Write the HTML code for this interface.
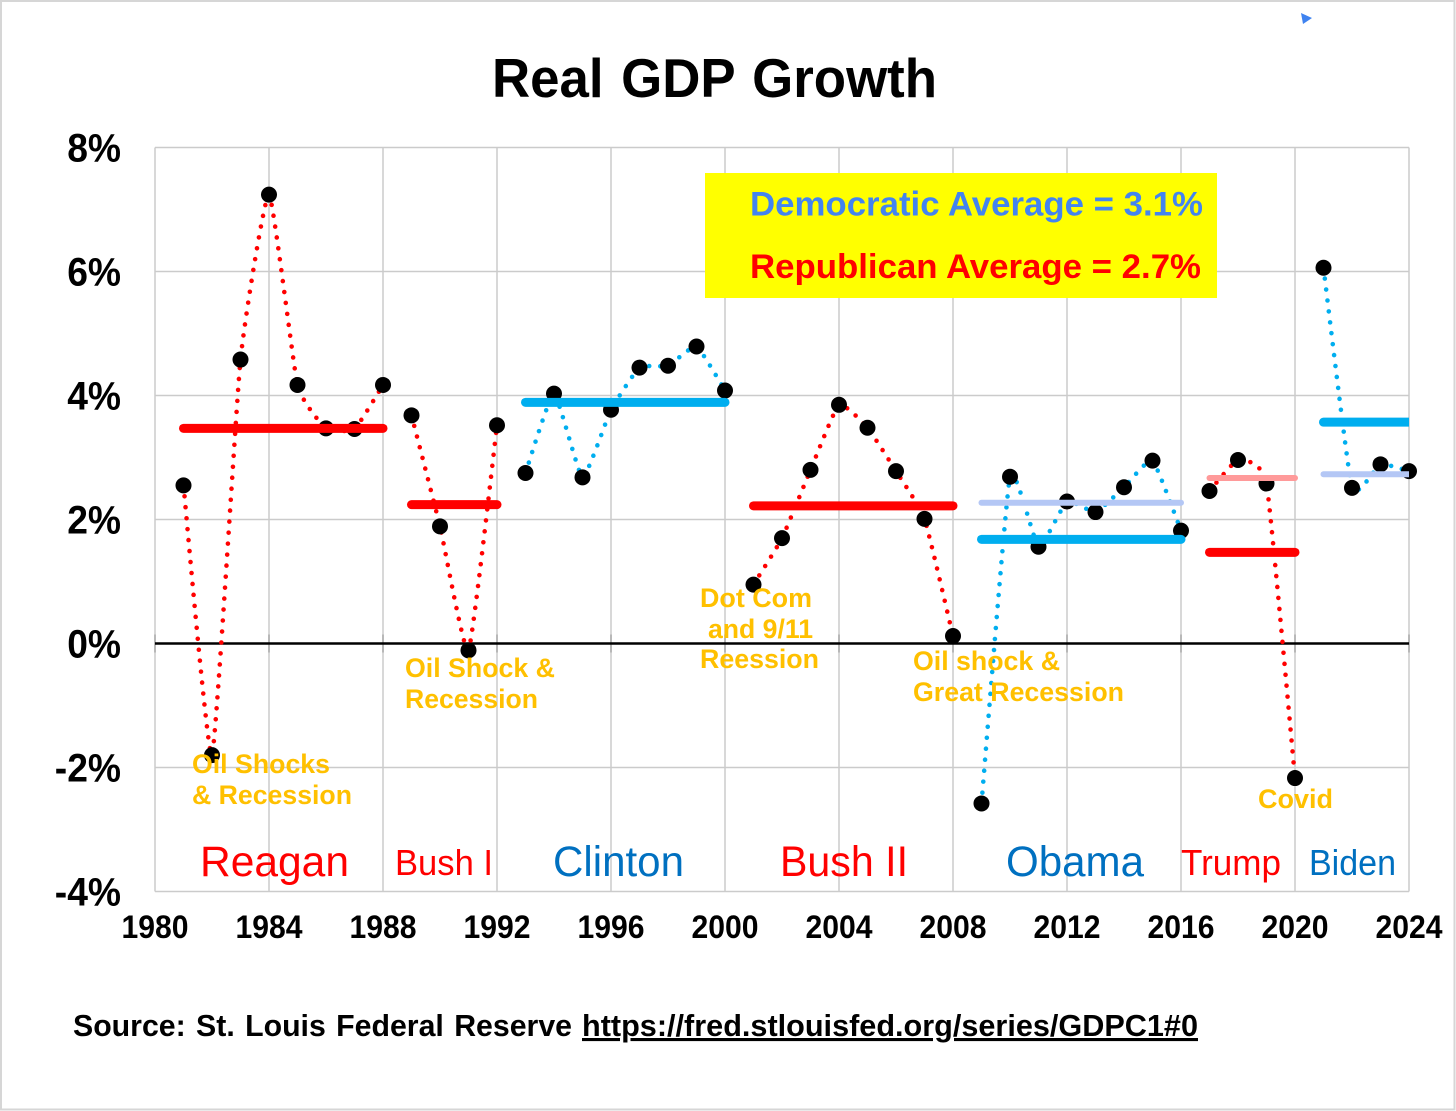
<!DOCTYPE html>
<html lang="en">
<head>
<meta charset="utf-8">
<title>Real GDP Growth</title>
<style>
html,body{margin:0;padding:0;background:#fff;}
svg{display:block;font-family:"Liberation Sans",Arial,sans-serif;}
</style>
</head>
<body>
<svg id="chart" xmlns="http://www.w3.org/2000/svg" width="1456" height="1111" viewBox="0 0 1456 1111">
  <rect x="1" y="1" width="1453.5" height="1108.5" fill="#fff" stroke="#d6d6d6" stroke-width="2"/>
  <polygon points="1301,13 1312,18 1303,24" fill="#3f83f0"/>
  <text x="492" y="97" font-size="55" font-weight="700" fill="#000" word-spacing="3" textLength="445" lengthAdjust="spacingAndGlyphs">Real GDP Growth</text>
  <g id="grid"></g>
  <rect x="705" y="173" width="512" height="125" fill="#ffff00"/>
  <g id="lines"></g>
  <g id="points"></g>
  <g id="bars"></g>
  <g id="labels"></g>
  <text x="750" y="215.5" font-size="34" font-weight="700" fill="#4384f0" textLength="453" lengthAdjust="spacingAndGlyphs">Democratic Average = 3.1%</text>
  <text x="750" y="278" font-size="34" font-weight="700" fill="#ff0000" textLength="451" lengthAdjust="spacingAndGlyphs">Republican Average = 2.7%</text>

  <g font-size="27" font-weight="700" fill="#ffc000">
    <text x="192" y="773" textLength="138" lengthAdjust="spacingAndGlyphs">Oil Shocks</text>
    <text x="192" y="804" textLength="160" lengthAdjust="spacingAndGlyphs">&amp; Recession</text>
    <text x="405" y="677" textLength="150" lengthAdjust="spacingAndGlyphs">Oil Shock &amp;</text>
    <text x="405" y="708" textLength="133" lengthAdjust="spacingAndGlyphs">Recession</text>
    <text x="700" y="607" textLength="112" lengthAdjust="spacingAndGlyphs">Dot Com</text>
    <text x="708" y="638" textLength="105" lengthAdjust="spacingAndGlyphs">and 9/11</text>
    <text x="700" y="668" textLength="119" lengthAdjust="spacingAndGlyphs">Reession</text>
    <text x="913" y="670" textLength="147" lengthAdjust="spacingAndGlyphs">Oil shock &amp;</text>
    <text x="913" y="701" textLength="211" lengthAdjust="spacingAndGlyphs">Great Recession</text>
    <text x="1258" y="808" textLength="75" lengthAdjust="spacingAndGlyphs">Covid</text>
  </g>

  <text x="200" y="876" font-size="43" fill="#ff0000" textLength="149" lengthAdjust="spacingAndGlyphs">Reagan</text>
  <text x="395" y="875" font-size="36" fill="#ff0000" textLength="98" lengthAdjust="spacingAndGlyphs">Bush I</text>
  <text x="553" y="876" font-size="43" fill="#0070c0" textLength="131" lengthAdjust="spacingAndGlyphs">Clinton</text>
  <text x="780" y="876" font-size="43" fill="#ff0000" textLength="128" lengthAdjust="spacingAndGlyphs">Bush II</text>
  <text x="1006" y="876" font-size="43" fill="#0070c0" textLength="138" lengthAdjust="spacingAndGlyphs">Obama</text>
  <text x="1181" y="875" font-size="36" fill="#ff0000" textLength="100" lengthAdjust="spacingAndGlyphs">Trump</text>
  <text x="1309" y="875" font-size="36" fill="#0070c0" textLength="87" lengthAdjust="spacingAndGlyphs">Biden</text>

  <text x="73" y="1036" font-size="31" font-weight="700" fill="#000" word-spacing="2" textLength="499" lengthAdjust="spacingAndGlyphs">Source: St. Louis Federal Reserve</text>
  <text x="582" y="1036" font-size="31" font-weight="700" fill="#000" text-decoration="underline" textLength="616" lengthAdjust="spacingAndGlyphs">https://fred.stlouisfed.org/series/GDPC1#0</text>
</svg>
<script>
const years = [1981,1982,1983,1984,1985,1986,1987,1988,1989,1990,1991,1992,1993,1994,1995,1996,1997,1998,1999,2000,2001,2002,2003,2004,2005,2006,2007,2008,2009,2010,2011,2012,2013,2014,2015,2016,2017,2018,2019,2020,2021,2022,2023,2024];
const growth = [2.55,-1.80,4.58,7.24,4.17,3.47,3.46,4.17,3.68,1.89,-0.11,3.52,2.75,4.03,2.68,3.77,4.45,4.48,4.79,4.08,0.95,1.70,2.80,3.85,3.48,2.78,2.01,0.12,-2.58,2.69,1.56,2.29,2.12,2.52,2.95,1.82,2.46,2.96,2.58,-2.17,6.06,2.51,2.89,2.78];
const termFirstYears = [1981,1989,1993,2001,2009,2017,2021];
const termLastYears = [1988,1992,2000,2008,2016,2020,2024];
const termParties = ["R","R","D","R","D","R","D"];
const termAverages = [3.47,2.24,3.89,2.22,1.68,1.47,3.57];
const comparisonTermIndexes = [4,5,6];
const comparisonAverages = [2.27,2.67,2.73];
const yTickValues = [8,6,4,2,0,-2,-4];
const yTickLabels = ["8%","6%","4%","2%","0%","-2%","-4%"];
const xTickValues = [1980,1984,1988,1992,1996,2000,2004,2008,2012,2016,2020,2024];

const NS = "http://www.w3.org/2000/svg";
const xScale = function (year) { return 155 + (year - 1980) * (1254 / 44); };
const yScale = function (value) { return 643.5 - value * 62; };
const lineColor = function (party) { return party === "D" ? "#00aeef" : "#ff0000"; };
const lightColor = function (party) { return party === "D" ? "#b4c7f5" : "#ff9a9a"; };
function make(tag, parent, attrs) {
  const el = document.createElementNS(NS, tag);
  for (const key in attrs) { el.setAttribute(key, attrs[key]); }
  parent.appendChild(el);
  return el;
}

const grid = document.getElementById("grid");
yTickValues.forEach(function (value) {
  if (value === 0) { return; }
  const line = make("line", grid, { x1: 155, x2: 1409, y1: yScale(value), y2: yScale(value), stroke: "#cbcbcb", "stroke-width": 1.5 });
  
  
});
xTickValues.forEach(function (year) {
  const line = make("line", grid, { x1: xScale(year), x2: xScale(year), y1: yScale(8), y2: yScale(-4), stroke: "#cbcbcb", "stroke-width": 1.5 });
  
  
  const tick = make("line", grid, { x1: xScale(year), x2: xScale(year), y1: yScale(0) - 9, y2: yScale(0) + 9, stroke: "#a8a8a8", "stroke-width": 1.5 });
  
  
});
const zeroLine = make("line", grid, { x1: 155, x2: 1409, y1: yScale(0), y2: yScale(0), stroke: "#000", "stroke-width": 2.4 });



function smoothPath(points) {
  const k = 1 / 14;
  let d = "M" + points[0][0] + " " + points[0][1];
  for (let i = 0; i < points.length - 1; i++) {
    const p0 = points[Math.max(i - 1, 0)];
    const p1 = points[i];
    const p2 = points[i + 1];
    const p3 = points[Math.min(i + 2, points.length - 1)];
    d += " C" + (p1[0] + (p2[0] - p0[0]) * k) + " " + (p1[1] + (p2[1] - p0[1]) * k) +
         " " + (p2[0] - (p3[0] - p1[0]) * k) + " " + (p2[1] - (p3[1] - p1[1]) * k) +
         " " + p2[0] + " " + p2[1];
  }
  return d;
}

const lines = document.getElementById("lines");
termFirstYears.forEach(function (first, t) {
  const pts = [];
  years.forEach(function (year, i) {
    if (year >= first && year <= termLastYears[t]) { pts.push([xScale(year), yScale(growth[i])]); }
  });
  const path = make("path", lines, { d: smoothPath(pts), fill: "none", stroke: lineColor(termParties[t]), "stroke-width": 4.6, "stroke-linecap": "round", "stroke-dasharray": "0 11" });
  
  
});

const points = document.getElementById("points");
years.forEach(function (year, i) {
  const c = make("circle", points, { cx: xScale(year), cy: yScale(growth[i]), r: 8, fill: "#000" });
  
  
});

const bars = document.getElementById("bars");
const clip = make("clipPath", bars, { id: "plotClip" });
make("rect", clip, { x: 0, y: 0, width: 1409, height: 1111 });
comparisonTermIndexes.forEach(function (t, i) {
  const bar = make("line", bars, { x1: xScale(termFirstYears[t]), x2: xScale(termLastYears[t]), y1: yScale(comparisonAverages[i]), y2: yScale(comparisonAverages[i]), stroke: lightColor(termParties[t]), "stroke-width": 6, "stroke-linecap": "round", "clip-path": "url(#plotClip)" });
  
  
});
termFirstYears.forEach(function (first, t) {
  const bar = make("line", bars, { x1: xScale(first), x2: xScale(termLastYears[t]), y1: yScale(termAverages[t]), y2: yScale(termAverages[t]), stroke: lineColor(termParties[t]), "stroke-width": 9, "stroke-linecap": "round", "clip-path": "url(#plotClip)" });
  
  
});

const labels = document.getElementById("labels");
yTickValues.forEach(function (value, i) {
  const label = make("text", labels, { x: 121, y: yScale(value) + 14, "text-anchor": "end", "font-size": 40, "font-weight": 700, fill: "#000" });
  label.textContent = yTickLabels[i];
  label.setAttribute("textLength", (label.getComputedTextLength() * 0.93).toFixed(1));
  label.setAttribute("lengthAdjust", "spacingAndGlyphs");
  
  
});
xTickValues.forEach(function (year) {
  const label = make("text", labels, { x: xScale(year), y: 938, "text-anchor": "middle", "font-size": 32, "font-weight": 700, fill: "#000", textLength: 67, lengthAdjust: "spacingAndGlyphs" });
  label.textContent = String(year);
  
  
});
</script>
</body>
</html>
